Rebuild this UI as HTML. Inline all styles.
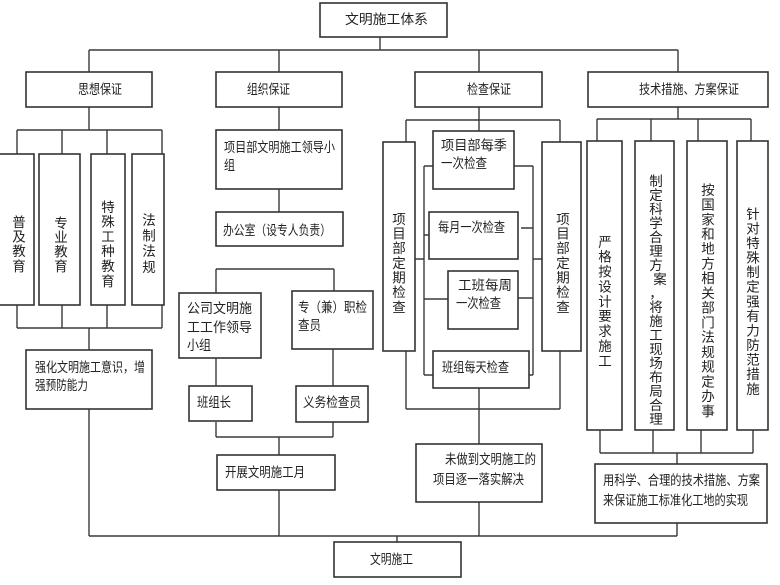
<!DOCTYPE html>
<html>
<head>
<meta charset="utf-8">
<style>
html,body{margin:0;padding:0;background:#fff;}
svg{display:block;}
text{font-family:"Liberation Sans","Noto Sans CJK SC","WenQuanYi Zen Hei",sans-serif;font-size:13.5px;fill:#222;}
.b{fill:#fff;stroke:#333;stroke-width:1.6;}
.l{stroke:#3a3a3a;stroke-width:1.4;fill:none;}
.v{text-anchor:middle;}
</style>
</head>
<body>
<svg width="780" height="585" viewBox="0 0 780 585" xmlns="http://www.w3.org/2000/svg">
<!-- connectors -->
<g class="l">
  <path d="M380 37V50M89 50H678M89 50V72M279 50V72M479 50V72M678 50V72"/>
  <!-- left column -->
  <path d="M89 107V130M17 130H162M17 130V154M62 130V154M107 130V154M162 130V154"/>
  <path d="M17 305V328M62 305V328M107 305V328M162 305V328M17 328H162M89 328V350M89 409V536"/>
  <!-- organisation column -->
  <path d="M279 107V130M279 189V212M216 269H334M216 269V293M334 269V291M216 358V386M333 349V386M216 422V437M333 422V437M216 437H333M279 437V455M279 490V536"/>
  <!-- check column -->
  <path d="M479 107V120M406 120H560M406 120V142M560 120V142M479 120V131"/>
  <path d="M424 166H433M424 166V375M514 166H533M533 166V375"/>
  <path d="M424 235H429M521 228H533M415 259H424M533 259H542M424 299H448M512 298H533M424 375H433M524 375H533"/>
  <path d="M479 388V409M406 351V409M560 351V409M406 409H560M479 409V444M479 502V536"/>
  <!-- tech column -->
  <path d="M678 107V119M597 119H751M597 119V141M651 119V141M698 119V141M751 119V141"/>
  <path d="M600 430V453M653 430V453M701 430V453M753 430V453M600 453H753M677 453V464M677 523V536"/>
  <!-- bottom -->
  <path d="M89 536H677M397 536V542"/>
</g>
<!-- boxes -->
<g>
  <rect class="b" x="320" y="3" width="127" height="34"/>
  <rect class="b" x="26" y="72" width="126" height="35"/>
  <rect class="b" x="216" y="72" width="126" height="35"/>
  <rect class="b" x="415" y="72" width="127" height="35"/>
  <rect class="b" x="588" y="72" width="180" height="35"/>
  <!-- left -->
  <rect class="b" x="-5" y="154" width="39" height="151"/>
  <rect class="b" x="39" y="154" width="41" height="151"/>
  <rect class="b" x="91" y="154" width="34" height="151"/>
  <rect class="b" x="132" y="154" width="32" height="151"/>
  <rect class="b" x="26" y="350" width="126" height="59"/>
  <!-- org -->
  <rect class="b" x="216" y="130" width="126" height="59"/>
  <rect class="b" x="216" y="212" width="127" height="34"/>
  <rect class="b" x="179" y="293" width="82" height="65"/>
  <rect class="b" x="292" y="291" width="81" height="58"/>
  <rect class="b" x="189" y="386" width="63" height="35"/>
  <rect class="b" x="296" y="386" width="72" height="36"/>
  <rect class="b" x="217" y="455" width="118" height="35"/>
  <!-- check -->
  <rect class="b" x="383" y="142" width="32" height="209"/>
  <rect class="b" x="542" y="142" width="39" height="209"/>
  <rect class="b" x="433" y="131" width="81" height="58"/>
  <rect class="b" x="429" y="212" width="89" height="47"/>
  <rect class="b" x="448" y="271" width="70" height="58"/>
  <rect class="b" x="433" y="351" width="96" height="37"/>
  <rect class="b" x="416" y="444" width="126" height="58"/>
  <!-- tech -->
  <rect class="b" x="587" y="141" width="35" height="289"/>
  <rect class="b" x="635" y="141" width="39" height="289"/>
  <rect class="b" x="687" y="141" width="40" height="289"/>
  <rect class="b" x="737" y="141" width="31" height="289"/>
  <rect class="b" x="595" y="464" width="172" height="59"/>
  <!-- bottom -->
  <rect class="b" x="334" y="542" width="127" height="35"/>
</g>
<!-- horizontal text -->
<g>
  <text x="345" y="24" textLength="83" lengthAdjust="spacingAndGlyphs">文明施工体系</text>
  <text x="78" y="94" textLength="44" lengthAdjust="spacingAndGlyphs">思想保证</text>
  <text x="247" y="94" textLength="43" lengthAdjust="spacingAndGlyphs">组织保证</text>
  <text x="467" y="94" textLength="44" lengthAdjust="spacingAndGlyphs">检查保证</text>
  <text x="639" y="94" textLength="100" lengthAdjust="spacingAndGlyphs">技术措施、方案保证</text>

  <text x="224" y="152" textLength="111" lengthAdjust="spacingAndGlyphs">项目部文明施工领导小</text>
  <text x="224" y="170" textLength="11" lengthAdjust="spacingAndGlyphs">组</text>
  <text x="223" y="235" textLength="108" lengthAdjust="spacingAndGlyphs">办公室（设专人负责）</text>
  <text x="187" y="313" textLength="65" lengthAdjust="spacingAndGlyphs">公司文明施</text>
  <text x="187" y="332" textLength="65" lengthAdjust="spacingAndGlyphs">工工作领导</text>
  <text x="187" y="350" textLength="24" lengthAdjust="spacingAndGlyphs">小组</text>
  <text x="298" y="312" textLength="69" lengthAdjust="spacingAndGlyphs">专（兼）职检</text>
  <text x="298" y="330" textLength="23" lengthAdjust="spacingAndGlyphs">查员</text>
  <text x="197" y="407" textLength="34" lengthAdjust="spacingAndGlyphs">班组长</text>
  <text x="303" y="407" textLength="58" lengthAdjust="spacingAndGlyphs">义务检查员</text>
  <text x="225" y="477" textLength="80" lengthAdjust="spacingAndGlyphs">开展文明施工月</text>

  <text x="35" y="372" textLength="110" lengthAdjust="spacingAndGlyphs">强化文明施工意识，增</text>
  <text x="35" y="390" textLength="53" lengthAdjust="spacingAndGlyphs">强预防能力</text>

  <text x="441" y="150" textLength="66" lengthAdjust="spacingAndGlyphs">项目部每季</text>
  <text x="441" y="168" textLength="46" lengthAdjust="spacingAndGlyphs">一次检查</text>
  <text x="438" y="232" textLength="67" lengthAdjust="spacingAndGlyphs">每月一次检查</text>
  <text x="458" y="290" textLength="54" lengthAdjust="spacingAndGlyphs">工班每周</text>
  <text x="456" y="308" textLength="45" lengthAdjust="spacingAndGlyphs">一次检查</text>
  <text x="442" y="372" textLength="67" lengthAdjust="spacingAndGlyphs">班组每天检查</text>
  <text x="445" y="464" textLength="91" lengthAdjust="spacingAndGlyphs">未做到文明施工的</text>
  <text x="433" y="484" textLength="91" lengthAdjust="spacingAndGlyphs">项目逐一落实解决</text>

  <text x="603" y="485" textLength="157" lengthAdjust="spacingAndGlyphs">用科学、合理的技术措施、方案</text>
  <text x="603" y="505" textLength="145" lengthAdjust="spacingAndGlyphs">来保证施工标准化工地的实现</text>

  <text x="370" y="564" textLength="43" lengthAdjust="spacingAndGlyphs">文明施工</text>
</g>
<!-- vertical text -->
<g class="v">
  <text x="19 19 19 19" y="226.8 241.5 256.1 270.8">普及教育</text>
  <text x="61 61 61 61" y="227.8 242.1 256.5 270.8">专业教育</text>
  <text x="108 108 108 108 108 108" y="211.8 226.6 241.4 256.2 271 285.8">特殊工种教育</text>
  <text x="149 149 149 149" y="224.8 240.5 256.1 271.8">法制法规</text>

  <text x="399 399 399 399 399 399 399" y="223.8 238.5 253.1 267.8 282.5 297.1 311.8">项目部定期检查</text>
  <text x="563 563 563 563 563 563 563" y="223.8 238.5 253.1 267.8 282.5 297.1 311.8">项目部定期检查</text>

  <text x="605 605 605 605 605 605 605 605 605" y="246.8 261.7 276.6 291.4 306.3 321.2 336.1 351 365.8">严格按设计要求施工</text>
  <text x="656 656 656 656 656 656 656 660 656 656 656 656 656 656 656 656 656 656" y="185.8 199.8 213.8 227.8 241.8 255.8 269.8 283.8 297.8 311.8 325.8 339.8 353.8 367.8 381.8 395.8 409.8 423.8">制定科学合理方案，将施工现场布局合理</text>
  <text x="708 708 708 708 708 708 708 708 708 708 708 708 708 708 708 708" y="194.8 209.5 224.3 239 253.7 268.5 283.2 297.9 312.6 327.4 342.1 356.8 371.6 386.3 401 415.8">按国家和地方相关部门法规规定办事</text>
  <text x="753 753 753 753 753 753 753 753 753 753 753 753 753" y="218.8 233.4 248 262.5 277.1 291.7 306.3 320.9 335.5 350 364.6 379.2 393.8">针对特殊制定强有力防范措施</text>
</g>
</svg>
</body>
</html>
